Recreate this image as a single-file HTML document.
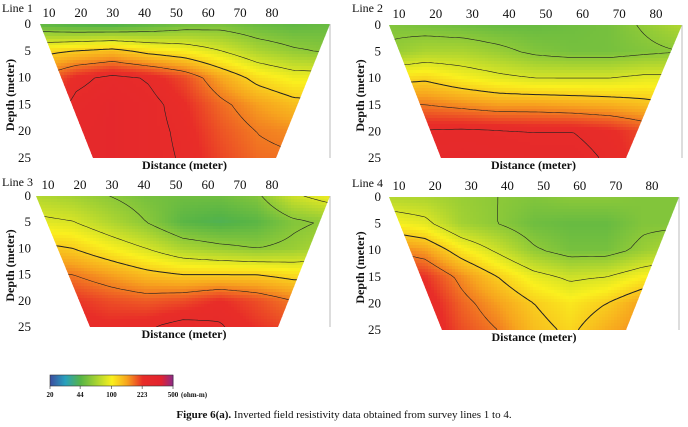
<!DOCTYPE html>
<html><head><meta charset="utf-8">
<style>
body{margin:0;background:#fff;width:688px;height:427px;overflow:hidden;font-family:"Liberation Serif",serif}
svg{position:absolute;left:0;top:0}
</style></head>
<body>
<svg id="chart" width="688" height="427"></svg>
<script>
// Resistivity grids (ohm-m): rows = depth 0,5,10,15,20,25 m; columns evenly across the survey line
const depths=[0,5,10,15,20,25];
const line1=[
[45,42,41,45,50,52,48,46,48],
[110,120,130,110,100,84,68,60,56],
[171,230,260,240,200,145,110,95,95],
[200,260,280,260,225,180,150,130,125],
[220,270,280,260,235,195,170,160,165],
[230,270,280,260,240,205,180,175,175]];
const line2=[
[55,52,50,48,48,50,52,60,70],
[60,68,68,62,55,52,52,55,58],
[110,115,100,90,84,84,84,90,90],
[175,171,160,150,150,145,140,130,120],
[240,250,255,250,245,245,230,200,180],
[260,265,270,265,260,260,240,210,190]];
const line3=[
[70,65,58,52,50,50,55,80,95],
[90,85,70,58,45,42,45,55,60],
[130,120,100,84,68,62,58,62,70],
[180,171,150,130,120,120,120,110,110],
[240,220,200,190,200,225,200,171,160],
[250,240,230,240,265,250,220,200,190]];
const line4=[
[70,68,62,58,55,58,58,55,55],
[100,90,65,58,50,48,48,55,55],
[171,150,105,80,60,52,52,62,72],
[240,220,160,120,92,80,84,100,110],
[275,250,185,150,120,105,120,150,150],
[280,260,200,171,130,115,140,165,160]];
const tickLabels=[10,20,30,40,50,60,70,80];
const depthTicks=[0,5,10,15,20,25];
const cbValues=[20,44,100,223,500];
const contourLevels=[58,84,120,171,245];

const NS="http://www.w3.org/2000/svg";
const svg=document.getElementById('chart');
function mk(tag,attrs,parent){const e=document.createElementNS(NS,tag);for(const k in attrs)e.setAttribute(k,attrs[k]);(parent||svg).appendChild(e);return e;}
const stops=[[0,[59,79,160]],[0.12,[40,160,190]],[0.245,[86,180,70]],[0.37,[165,210,50]],[0.5,[250,240,30]],[0.62,[247,165,30]],[0.75,[232,45,40]],[0.9,[226,35,48]],[1,[139,42,139]]];
function color(v){let t=Math.log(v/20)/Math.log(25);t=Math.max(0,Math.min(1,t));
 for(let i=1;i<stops.length;i++){if(t<=stops[i][0]){const a=stops[i-1],b=stops[i],f=(t-a[0])/(b[0]-a[0]);
 const c=a[1].map((x,j)=>Math.round(x+(b[1][j]-x)*f));return `rgb(${c[0]},${c[1]},${c[2]})`;}}return 'rgb(139,42,139)';}
function sample(grid,u,v){const nr=grid.length-1,nc=grid[0].length-1;
 const r=Math.min(nr-1e-6,Math.max(0,v*nr)),c=Math.min(nc-1e-6,Math.max(0,u*nc));
 const r0=Math.floor(r),c0=Math.floor(c),fr=r-r0,fc=c-c0;
 const L=(x)=>Math.log(x);
 const a=L(grid[r0][c0])*(1-fc)+L(grid[r0][c0+1])*fc,b=L(grid[r0+1][c0])*(1-fc)+L(grid[r0+1][c0+1])*fc;
 return Math.exp(a*(1-fr)+b*fr);}

const panels=[
 {name:'line-1',label:'Line 1',grid:line1,yt:24,yb:158,xl:40,xr:330,bl:93,br:276,x10:49,x80:272,lx:2,ly:12,dl:31,yt2:10},
 {name:'line-2',label:'Line 2',grid:line2,yt:25,yb:158,xl:389,xr:682,bl:441,br:626,x10:399,x80:656,lx:352,ly:12,dl:381,yt2:360},
 {name:'line-3',label:'Line 3',grid:line3,yt:196,yb:327,xl:36,xr:330,bl:90,br:278,x10:48,x80:272,lx:2,ly:186,dl:31,yt2:10},
 {name:'line-4',label:'Line 4',grid:line4,yt:197,yb:330,xl:389,xr:679,bl:442,br:626,x10:399,x80:652,lx:352,ly:187,dl:381,yt2:360}];

panels.forEach((p,i)=>{
 const g=mk('g',{});
 
 
 const cp=mk('clipPath',{id:'cp'+i},g);
 mk('polygon',{points:`${p.xl},${p.yt} ${p.xr},${p.yt} ${p.br},${p.yb} ${p.bl},${p.yb}`},cp);
 const img=mk('g',{'clip-path':`url(#cp${i})`},g);
 
 
 const s=3;
 const nodes=[];
 for(let y=p.yt,ri=0;y<=p.yb+s;y+=s,ri++){nodes.push([]);for(let x=p.xl;x<=p.xr+s;x+=s){
  const u=(x-p.xl)/(p.xr-p.xl),v=(y-p.yt)/(p.yb-p.yt);nodes[ri].push(sample(p.grid,u,v));}}
 for(let y=p.yt;y<p.yb;y+=s){for(let x=p.xl;x<p.xr;x+=s){
  const u=(x+s/2-p.xl)/(p.xr-p.xl),v=(y+s/2-p.yt)/(p.yb-p.yt);
  mk('rect',{x:x,y:y,width:s+0.5,height:s+0.5,fill:color(sample(p.grid,u,v))},img);}}
 contourLevels.forEach(lv=>{
  let d='';
  for(let r=0;r<nodes.length-1;r++)for(let c=0;c<nodes[r].length-1;c++){
   const x=p.xl+c*s,y=p.yt+r*s;
   const a=nodes[r][c],b=nodes[r][c+1],cc=nodes[r+1][c+1],dd=nodes[r+1][c];
   const pts=[];
   if((a-lv)*(b-lv)<0)pts.push([x+s*(lv-a)/(b-a),y]);
   if((b-lv)*(cc-lv)<0)pts.push([x+s,y+s*(lv-b)/(cc-b)]);
   if((dd-lv)*(cc-lv)<0)pts.push([x+s*(lv-dd)/(cc-dd),y+s]);
   if((a-lv)*(dd-lv)<0)pts.push([x,y+s*(lv-a)/(dd-a)]);
   for(let k=0;k+1<pts.length;k+=2)d+=`M${pts[k][0].toFixed(1)},${pts[k][1].toFixed(1)}L${pts[k+1][0].toFixed(1)},${pts[k+1][1].toFixed(1)}`;
  }
  if(d){const pa=mk('path',{d:d,fill:'none',stroke:'#222','stroke-width':lv===120?1:0.6},img);
   
   }
 });
 const fr=mk('line',{x1:p.xr,y1:p.yt,x2:p.xr,y2:p.yb,stroke:'#bbb','stroke-width':1},g);
 
 
 const sc=(p.x80-p.x10)/70;
 tickLabels.forEach(d=>{const x=p.x10+(d-10)*sc;
  const t=mk('text',{x:x,y:p.yt-7,'text-anchor':'middle','font-size':13,fill:'#111'},g);t.textContent=d;
  
  });
 depthTicks.forEach(d=>{const y=p.yt+(p.yb-p.yt)*d/25;
  const t=mk('text',{x:p.dl,y:y+4,'text-anchor':'end','font-size':13,fill:'#111'},g);t.textContent=d;
  
  });
 const lb=mk('text',{x:p.lx,y:p.ly,'font-size':12,fill:'#111'},g);lb.textContent=p.label;
 
 
 const yc=(p.yt+p.yb)/2;
 const yt=mk('text',{x:p.yt2,y:yc,'text-anchor':'middle','font-size':12,'font-weight':'bold',fill:'#111',transform:`rotate(-90 ${p.yt2+4} ${yc})`},g);yt.textContent='Depth (meter)';
 
 
 const xt=mk('text',{x:(p.bl+p.br)/2,y:p.yb+11,'text-anchor':'middle','font-size':12,'font-weight':'bold',fill:'#111'},g);xt.textContent='Distance (meter)';
 
 
});

const cb=mk('g',{});


const cbx0=50,cbx1=173;
for(let x=cbx0;x<cbx1;x++){const t=(x-cbx0)/(cbx1-cbx0);mk('rect',{x:x,y:375,width:1.5,height:11,fill:color(20*Math.pow(25,t))},cb);}
mk('rect',{x:cbx0,y:375,width:cbx1-cbx0,height:11,fill:'none',stroke:'#333','stroke-width':0.6},cb);
cbValues.forEach(v=>{const x=cbx0+(cbx1-cbx0)*Math.log(v/20)/Math.log(25);
 mk('line',{x1:x,y1:386,x2:x,y2:389,stroke:'#333','stroke-width':0.6},cb);
 const t=mk('text',{x:x,y:397,'text-anchor':'middle','font-size':7,'font-weight':'bold',fill:'#111'},cb);t.textContent=v;
 
 });
const un=mk('text',{x:181,y:397,'font-size':7,'font-weight':'bold',fill:'#111'},cb);un.textContent='(ohm-m)';


const cap=mk('text',{x:344,y:418,'text-anchor':'middle','font-size':11,fill:'#111'});


const b=mk('tspan',{'font-weight':'bold'},cap);b.textContent='Figure 6(a).';
const r=mk('tspan',{},cap);r.textContent=' Inverted field resistivity data obtained from survey lines 1 to 4.';
</script>
</body></html>
